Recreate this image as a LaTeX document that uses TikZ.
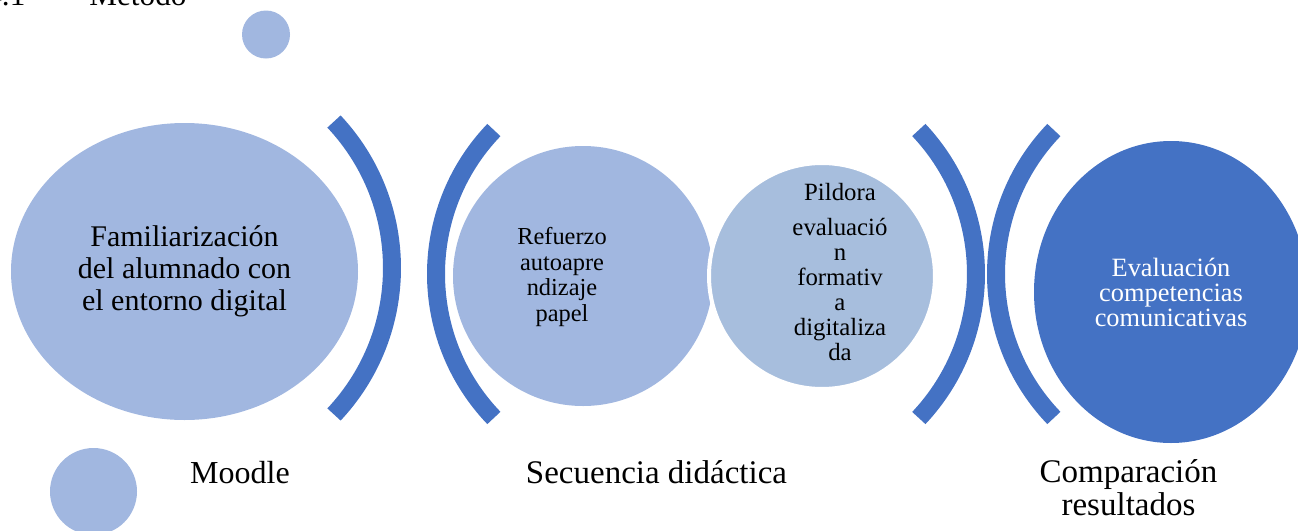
\documentclass[tikz,border=0pt]{standalone}
\usepackage{fontspec}
\setmainfont{Liberation Serif}
\usetikzlibrary{shapes.geometric}
\definecolor{lightblue}{HTML}{A1B7E0}
\definecolor{paleblue}{HTML}{A7BEDD}
\definecolor{darkblue}{HTML}{4472C4}
\begin{document}
\begin{tikzpicture}[x=0.5pt,y=-0.5pt,
    blob/.style={ellipse, inner sep=0pt, outer sep=0pt},
    bracket/.style={draw=darkblue, line width=9pt},
    steplabel/.style={anchor=base, align=center, font=\fontsize{16.5}{16.5}\selectfont},
    blobtext/.style={align=center, inner sep=0pt}]
    \useasboundingbox (0,0) rectangle (1298,531);

    \node[anchor=base west, inner sep=0pt, font=\fontsize{15.6}{18}\selectfont] (head) at (-14,5) {4.1\hspace{32pt}Método};

    \node[blob, fill=lightblue, minimum width=173.5pt, minimum height=148.5pt] (moodle) at (184.5,271.5) {};
    \node[blob, fill=lightblue, minimum width=130pt, minimum height=130pt] (refuerzo) at (583,276) {};
    \node[blob, fill=paleblue, draw=white, line width=2pt, minimum width=113pt, minimum height=113pt] (pildora) at (822,276) {};
    \node[blob, fill=darkblue, minimum width=137pt, minimum height=151pt] (evaluacion) at (1171,292) {};

    \node[blob, fill=lightblue, minimum width=24pt, minimum height=24pt] (dottop) at (266,34.5) {};
    \node[blob, fill=lightblue, minimum width=43.5pt, minimum height=43.5pt] (dotbottom) at (93.5,491.5) {};

    \node[blobtext, font=\fontsize{15}{16}\selectfont] (moodletext) at (moodle) {Familiarización\\del alumnado con\\el entorno digital};
    \node[blobtext, font=\fontsize{12.2}{12.85}\selectfont] (refuerzotext) at (562,277) {Refuerzo\\autoapre\\ndizaje\\papel};
    \node[blobtext, font=\fontsize{12.4}{12.5}\selectfont] (pildoratext) at (840,272) {Pildora\\[5pt]evaluació\\n\\formativ\\a\\digitaliza\\da};
    \node[blobtext, text=white, font=\fontsize{13.2}{12.5}\selectfont] (evaluaciontext) at (evaluacion) {Evaluación\\competencias\\comunicativas};

    \draw[bracket] (178,268) ++(-43.2:214) arc[start angle=-43.2, end angle=43.2, radius=214];
    \draw[bracket] (644,274) ++(136.2:208) arc[start angle=136.2, end angle=223.8, radius=208];
    \draw[bracket] (766,274) ++(-43.3:210) arc[start angle=-43.3, end angle=43.3, radius=210];
    \draw[bracket] (1204,274) ++(136.2:208) arc[start angle=136.2, end angle=223.8, radius=208];

    \node[steplabel, font=\fontsize{16}{16}\selectfont] (moodlelabel) at (240,483) {Moodle};
    \node[steplabel] (secuencialabel) at (656.5,483) {Secuencia didáctica};
    \node[steplabel] (comparacionlabel) at (1128.5,515) {Comparación\\resultados};
\end{tikzpicture}
\end{document}
